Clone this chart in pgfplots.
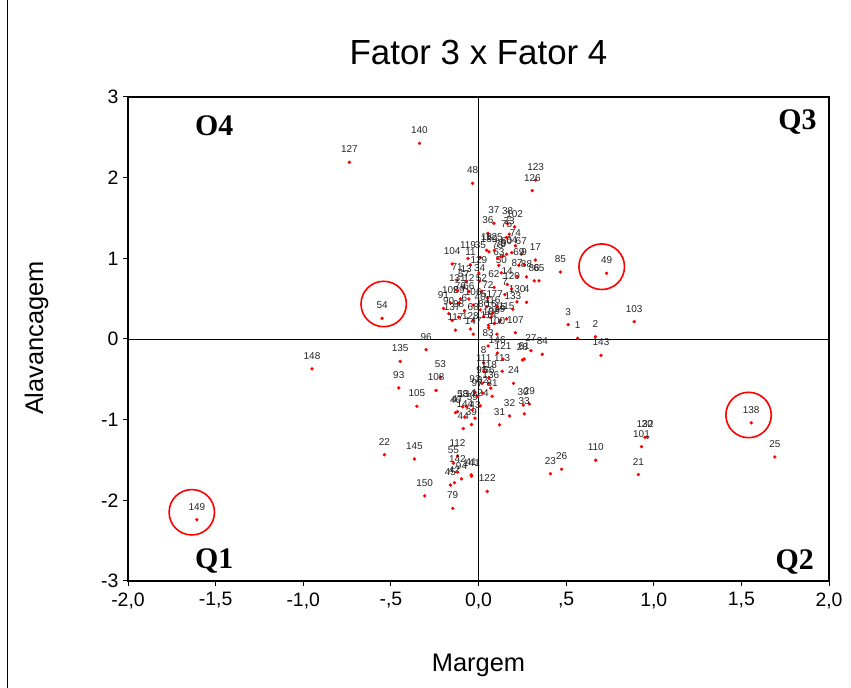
\documentclass[border=0pt]{standalone}
\usepackage{fontspec}
\setmainfont{Liberation Sans}
\newfontfamily\quadfont{Liberation Serif}
\usepackage{pgfplots}
\usepackage{pgfplotstable}
\pgfplotsset{compat=1.18}

% Scores: Fator 3 (Margem) against Fator 4 (Alavancagem), one row per firm
\pgfplotstableread{
x y lab
0.566 0.009 1
0.667 0.029 2
0.512 0.177 3
0.274 0.455 4
0.14 1.03 5
-0.08 0.35 6
0.15 0.55 7
0.03 -0.30 8
0.26 0.92 9
0.057 0.17 10
-0.046 0.92 11
-0.055 0.59 12
-0.07 0.71 13
0.164 0.678 14
0.126 0.235 15
0.072 0.27 16
0.324 0.979 17
0.046 1.10 18
0.12 0.21 19
0.964 -1.22 20
0.912 -1.68 21
-0.537 -1.434 22
0.41 -1.67 23
0.20 -0.55 24
1.691 -1.462 25
0.474 -1.615 26
0.299 -0.145 27
0.25 -0.26 28
0.29 -0.805 29
0.255 -0.82 30
0.12 -1.065 31
0.177 -0.954 32
0.261 -0.929 33
0.006 0.715 34
0.011 1.01 35
0.053 1.31 36
0.088 1.434 37
0.166 1.43 38
-0.04 -1.06 39
0.01 0.36 40
-0.042 -1.685 41
-0.137 -1.78 42
-0.02 -0.98 43
-0.087 -1.11 44
-0.16 -1.81 45
-0.131 -0.913 46
-0.12 -0.90 47
-0.034 1.93 48
0.731 0.814 49
0.13 0.82 50
0.046 0.40 51
0.017 0.59 52
-0.217 -0.474 53
-0.55 0.256 54
-0.143 -1.54 55
0.06 -0.55 56
-0.084 0.64 57
-0.09 -0.84 58
-0.035 -0.88 59
0.16 1.05 60
0.26 -0.248 61
0.088 0.64 62
0.116 0.913 63
0.19 1.07 64
0.345 0.72 65
-0.055 0.496 66
0.244 1.053 67
-0.03 0.23 68
0.23 0.913 69
0.126 1.02 70
-0.122 0.73 71
0.053 0.508 72
0.175 1.30 73
0.211 1.156 74
0.16 1.26 75
-0.103 0.496 76
0.107 0.40 77
0.11 1.0 78
-0.147 -2.10 79
0.03 0.276 80
0.078 -0.71 81
0.023 -0.67 82
0.055 -0.087 83
0.364 -0.19 84
0.467 0.83 85
0.318 0.72 86
0.221 0.777 87
0.274 0.77 88
-0.11 0.446 89
-0.17 0.314 90
-0.2 0.38 91
-0.02 -0.66 92
-0.455 -0.607 93
-0.097 -1.735 94
0.02 -0.55 95
-0.299 -0.132 96
-0.007 -0.71 97
-0.113 0.27 98
0.09 0.19 99
0.105 0.06 100
0.93 -1.335 101
0.206 1.39 102
0.888 0.215 103
-0.15 0.93 104
-0.352 -0.834 105
-0.03 0.42 106
0.21 0.078 107
-0.242 -0.637 108
-0.16 0.446 109
0.669 -1.503 110
0.03 -0.40 111
-0.12 -1.45 112
0.135 -0.40 113
0.058 0.14 114
0.16 0.25 115
0.08 0.32 116
-0.131 0.11 117
0.06 -0.48 118
-0.06 1.0 119
0.189 0.62 120
0.14 -0.25 121
0.05 -1.89 122
0.326 1.97 123
0.01 -0.83 124
0.09 1.1 125
0.307 1.84 126
-0.737 2.19 127
-0.046 0.124 128
0.002 0.818 129
0.22 0.46 130
-0.12 0.6 131
0.95 -1.22 132
0.196 0.368 133
-0.067 -0.84 134
-0.447 -0.277 135
0.07 -0.61 136
-0.15 0.23 137
1.556 -1.04 138
0.06 1.08 139
-0.337 2.425 140
-0.04 -1.7 141
-0.12 -1.65 142
0.699 -0.202 143
-0.078 -0.97 144
-0.366 -1.487 145
0.107 -0.174 146
-0.03 0.06 147
-0.95 -0.37 148
-1.607 -2.24 149
-0.307 -1.945 150
}\scores

\begin{document}
\begin{tikzpicture}[x=1bp,y=1bp]
\begin{axis}[
  at={(128bp,107bp)}, anchor=south west,
  width=701bp, height=484bp, scale only axis,
  xmin=-2, xmax=2, ymin=-3, ymax=3,
  axis line style={line width=1.1bp},
  tick align=outside, tick style={black, line width=1bp},
  xtick pos=bottom, ytick pos=left,
  major tick length=5bp,
  xtick={-2,-1.5,-1,-0.5,0,0.5,1,1.5,2},
  xticklabels={{-2,0},{-1,5},{-1,0},{-,5},{0,0},{,5},{1,0},{1,5},{2,0}},
  ytick={-3,-2,-1,0,1,2,3},
  yticklabels={-3,-2,-1,0,1,2,3},
  ticklabel style={font=\fontsize{19.5}{22}\selectfont},
  xticklabel style={yshift=-3bp},
  yticklabel style={xshift=-1bp},
  clip=false,
]
\addplot[black, line width=0.8bp, no markers] coordinates {(-2,0) (2,0)};
\addplot[black, line width=0.8bp, no markers] coordinates {(0,-3) (0,3)};
\addplot[
  only marks, mark=*, mark size=1.5bp, color=red,
  point meta=explicit symbolic,
  nodes near coords,
  every node near coord/.style={anchor=base, yshift=9.5bp,
    font=\fontsize{10}{12}\selectfont, text=black!85, inner sep=0pt},
] table[x=x, y=y, meta=lab] {\scores};
\draw[red, line width=1.6bp] (axis cs:-0.541,0.434) circle[radius=22.7bp];
\draw[red, line width=1.6bp] (axis cs:0.703,0.896) circle[radius=22.8bp];
\draw[red, line width=1.6bp] (axis cs:1.541,-0.942) circle[radius=22.7bp];
\draw[red, line width=1.6bp] (axis cs:-1.636,-2.148) circle[radius=22.7bp];
\end{axis}
% chart title, axis titles and quadrant names
\node[anchor=base] at (478.5,623) {\fontsize{35}{40}\selectfont Fator 3 x Fator 4};
\node[anchor=base] at (478.5,16.3) {\fontsize{25.5}{30}\selectfont Margem};
\node[anchor=base, rotate=90] at (43,350) {\fontsize{25.5}{30}\selectfont Alavancagem};
\node[anchor=base west, inner sep=0pt] at (195,552.3) {\quadfont\bfseries\fontsize{30}{34}\selectfont O4};
\node[anchor=base east, inner sep=0pt] at (816.7,558.7) {\quadfont\bfseries\fontsize{30}{34}\selectfont Q3};
\node[anchor=base west, inner sep=0pt] at (195,119.7) {\quadfont\bfseries\fontsize{30}{34}\selectfont Q1};
\node[anchor=base east, inner sep=0pt] at (814,118) {\quadfont\bfseries\fontsize{30}{34}\selectfont Q2};
\draw[black, line width=1bp] (7,0) -- (7,688);
\pgfresetboundingbox
\useasboundingbox (0,0) rectangle (851,688);
\end{tikzpicture}
\end{document}
